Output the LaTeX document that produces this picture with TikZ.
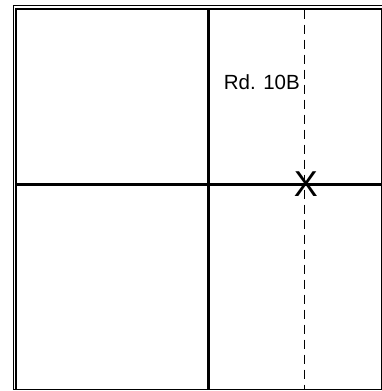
\documentclass[tikz,border=0pt]{standalone}
\usepackage{fontspec}
\setmainfont{Liberation Sans}
\begin{document}
\begin{tikzpicture}[x=1pt,y=-1pt,
  thinline/.style={line width=1pt},
  thickline/.style={line width=2.4pt},
  roadline/.style={line width=0.9pt,dash pattern=on 9pt off 6pt}]
\useasboundingbox (0,0) rectangle (382,391);
% frame
\draw[thinline] (13,5) -- (381.5,5);
\draw[thinline] (13,5) -- (13,389) -- (381,389) -- (381,8.5);
\draw[line width=2pt] (16,389) -- (16,8.5) -- (381.5,8.5);
% grid lines
\draw[thickline] (208.5,8.5) -- (208.5,389);
\draw[thickline] (16,184.5) -- (381,184.5);
% road
\draw[roadline] (304,9.5) -- (304,389);
\node[anchor=base east,inner sep=0pt,font=\fontsize{20.5}{24}\selectfont] (lbl) at (300,89) {Rd. 10B};
\node[inner sep=0pt,font=\fontsize{36}{42}\selectfont] (x) at (305.8,184.3) {X};
\end{tikzpicture}
\end{document}
